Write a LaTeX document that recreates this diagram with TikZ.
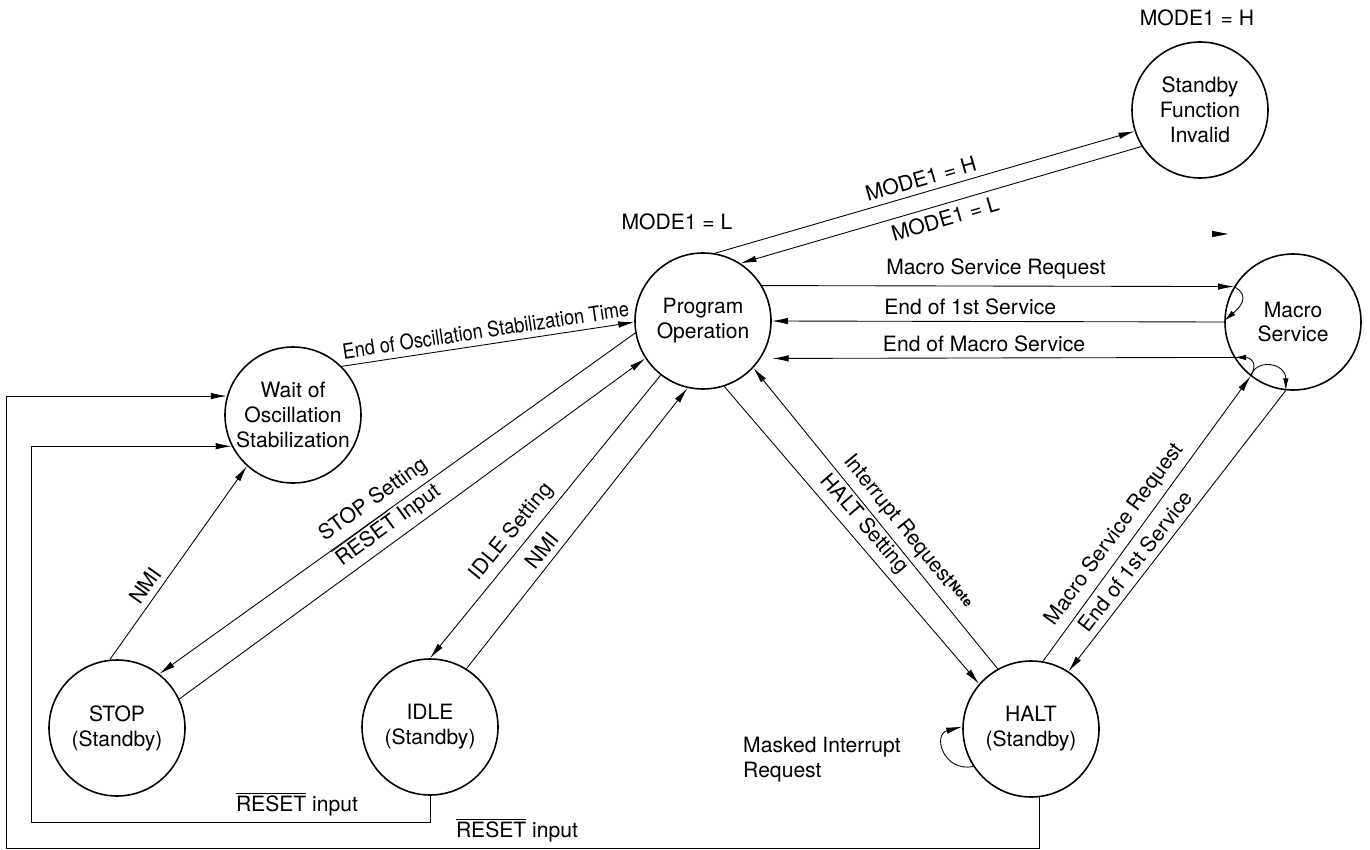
\documentclass[tikz,border=0pt]{standalone}
\usepackage{fontspec}
\setmainfont{TeX Gyre Heros}
\usepackage{graphicx}
\usepackage{tikz}
\usetikzlibrary{arrows.meta}
\newcommand{\rst}{$\overline{\mbox{RESET}}$}

\begin{document}
\begin{tikzpicture}[x=0.2mm,y=-0.2mm,font=\fontsize{12}{14.2}\selectfont,
  state/.style={circle,draw,line width=0.9pt,minimum size=27.2mm,inner sep=0pt,align=center},
  tr/.style={line width=0.5pt,-{Latex[length=3.2mm,width=1.3mm]}},
  loopy/.style={line width=0.5pt,-{Latex[length=2.4mm,width=1.1mm]}},
  lbl/.style={sloped,above}]
\useasboundingbox (0,0) rectangle (1370,850);

\node[state] (sfi) at (1200,110) {Standby\\Function\\Invalid};
\node[state] (prog) at (703,321) {Program\\Operation};
\node[state] (macro) at (1293,322) {Macro\\Service};
\node[state] (wait) at (293,415) {Wait of\\Oscillation\\Stabilization};
\node[state] (stop) at (117,728) {STOP\\(Standby)};
\node[state] (idle) at (430,727) {IDLE\\(Standby)};
\node[state] (halt) at (1031,729) {HALT\\(Standby)};

\node (modeH) at (1197,18) {MODE1 = H};
\node (modeL) at (677,222) {MODE1 = L};
\node[align=left,anchor=west] (masked) at (737,760) {Masked Interrupt\\Request};

\draw[tr] (prog.80) -- node[lbl] {MODE1 = H} (sfi.198);
\draw[tr] (sfi.212) -- node[sloped,below] {MODE1 = L} (prog.57);

\draw[tr] (prog.31) -- node[pos=0.25,anchor=south west] {Macro Service Request} (macro.149);
\draw[tr] (macro.180) -- node[pos=0.765,anchor=south west] {End of 1st Service} (prog.0);
\draw[tr,shorten >=2.4mm] (macro.211.5) -- node[pos=0.755,anchor=south west] {End of Macro Service} (prog.-33);

\draw[tr] (wait.45) -- node[lbl] {\scalebox{0.86}[1]{End of Oscillation Stabilization Time}} (prog.181);
\draw[tr] (prog.190) -- node[lbl,pos=0.53] {STOP Setting} (stop.52);
\draw[tr] (stop.25) -- node[lbl,pos=0.47] {\rst\ Input} (prog.213);
\draw[tr] (prog.232) -- node[lbl,pos=0.59] {IDLE Setting} (idle.90);
\draw[tr] (idle.58) -- node[lbl,pos=0.39] {NMI} (prog.257);
\draw[tr] (stop.96) -- node[lbl,pos=0.34] {NMI} (wait.228);

\draw[tr] (prog.288) -- node[lbl,pos=0.5] {HALT Setting} (halt.139);
\draw[tr] (halt.119) -- node[lbl,pos=0.42] {Interrupt Request\raisebox{0.3ex}{\fontsize{7.5}{8}\selectfont\bfseries Note}} (prog.317);
\draw[tr] (halt.80) -- node[lbl,pos=0.41] {Macro Service Request} (macro.232.5);
\draw[tr] (macro.264) -- node[lbl,pos=0.64] {End of 1st Service} (halt.57);
\draw[tr] (halt.213) .. controls +(-30,6) and +(-30,8) .. (halt.178);

\draw[loopy] (macro.149) .. controls +(18,10) and +(14,-12) .. (macro.179);
\draw[loopy] (macro.232.5) .. controls +(8,-14) and +(16,0) .. (macro.211.5);
\draw[loopy] (macro.232.5) .. controls +(5,-18) and +(0,-28) .. (macro.264);

\coordinate (inA) at (31,822);
\coordinate (outA) at (6,848);
\draw[tr] (idle.south) |- (inA) |- (wait.207);
\draw[tr] (halt.277) |- (outA) |- (wait.164);
\node[above] (rstIdle) at (297,822) {\rst\ input};
\node[above] (rstHalt) at (517,848) {\rst\ input};

\coordinate (stray) at (1228,234);
\fill (stray) -- ++(-16,-3.2) -- ++(0,6.4) -- cycle;
\end{tikzpicture}
\end{document}
